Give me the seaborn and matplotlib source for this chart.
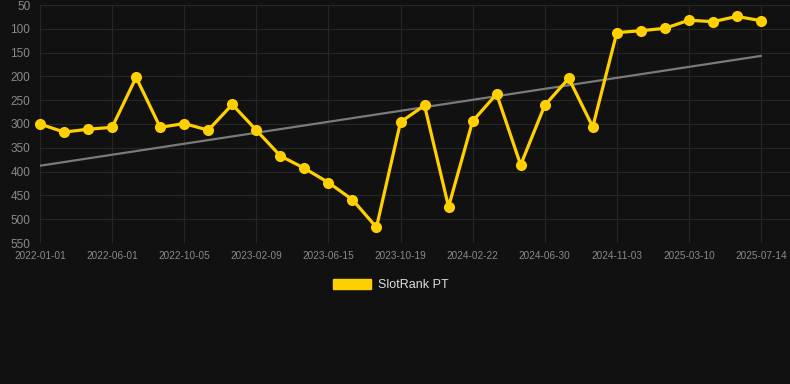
import matplotlib
matplotlib.use("Agg")
import matplotlib.pyplot as plt
from matplotlib.patches import Patch
import seaborn as sns
import pandas as pd
import numpy as np

# dates on the category axis (only every third one is labelled in the chart)
dates = [
    "2022-01-01", "2022-02-20", "2022-04-11", "2022-06-01", "2022-07-13", "2022-08-24",
    "2022-10-05", "2022-11-16", "2022-12-28", "2023-02-09", "2023-03-23", "2023-05-04",
    "2023-06-15", "2023-07-27", "2023-09-07", "2023-10-19", "2023-11-30", "2024-01-11",
    "2024-02-22", "2024-04-04", "2024-05-18", "2024-06-30", "2024-08-11", "2024-09-22",
    "2024-11-03", "2024-12-15", "2025-01-26", "2025-03-10", "2025-04-21", "2025-06-02",
    "2025-07-14",
]
rank = [
    300, 317, 311, 307, 202, 307, 299, 313, 259, 313, 367, 393, 423, 459, 517,
    296, 261, 474, 294, 237, 386, 261, 204, 306, 108, 104, 99, 82, 85, 74, 83,
]
y_ticks = [50, 100, 150, 200, 250, 300, 350, 400, 450, 500, 550]

BG = "#111111"
GOLD = "#FFD000"
GRID = "#262626"
TICK = "#8a8a8a"

sns.set_theme(style="dark")
plt.rcParams["font.family"] = ["Liberation Sans", "DejaVu Sans"]

df = pd.DataFrame({"idx": np.arange(len(dates)), "date": dates, "rank": rank})

fig = plt.figure(figsize=(7.9, 3.84), dpi=100, facecolor=BG)
# plot area runs to the right edge, last point sits at x=761
ax = fig.add_axes([40 / 790, 1 - 243 / 384, 750 / 790, 238 / 384])
ax.set_facecolor(BG)

# trend line (linear fit)
sns.regplot(data=df, x="idx", y="rank", scatter=False, ci=None, truncate=True,
            line_kws={"color": "#7a7a7a", "lw": 1.6, "zorder": 2}, ax=ax)

sns.lineplot(data=df, x="idx", y="rank", color=GOLD, lw=2.3, marker="o",
             markersize=8, markeredgewidth=0, ax=ax, zorder=3, clip_on=False)

n = len(dates) - 1
ax.set_xlim(0, n * 750 / 721)
ax.set_ylim(550, 50)
ax.set_yticks(y_ticks)
ax.set_yticklabels([str(t) for t in y_ticks])
tick_idx = list(range(0, len(dates), 3))
ax.set_xticks(tick_idx)
ax.set_xticklabels([dates[i] for i in tick_idx])

ax.grid(True, color=GRID, lw=0.8)
for s in ax.spines.values():
    s.set_visible(False)
ax.tick_params(axis="y", colors=TICK, labelsize=8.5, length=0, pad=7)
ax.tick_params(axis="x", colors=TICK, labelsize=7.2, length=0, pad=6)
ax.set_xlabel("")
ax.set_ylabel("")

handle = Patch(facecolor=GOLD, edgecolor=GOLD, label="SlotRank PT")
fig.legend(handles=[handle], loc="center", bbox_to_anchor=(391 / 790, 1 - 285 / 384),
           frameon=False, fontsize=9, labelcolor="#dddddd",
           handlelength=3.0, handleheight=0.9, handletextpad=0.6)

fig.savefig("out.png", dpi=100, facecolor=BG)
